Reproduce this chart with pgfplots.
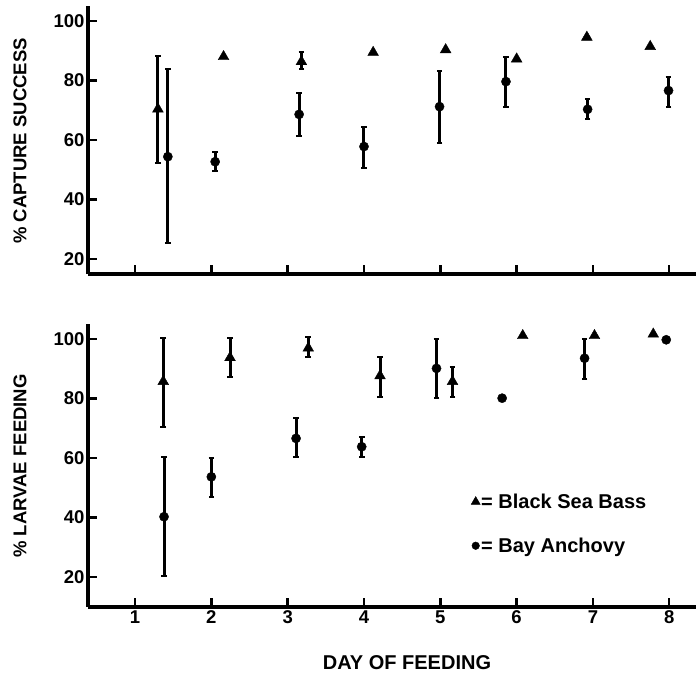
\documentclass[border=0pt]{standalone}
\usepackage{fontspec}
\setmainfont{Liberation Sans}
\usepackage{pgfplots}
\usepackage{pgfplotstable}
\pgfplotsset{compat=1.18}

% top panel: capture success
\pgfplotstableread{
x y ep em
1.30 70.4 17.8 18.0
3.18 86.3 3.1 2.5
}\topbassErr
\pgfplotstableread{
x y
2.16 88.0
4.12 89.4
5.07 90.3
6.00 87.2
6.92 94.5
7.75 91.4
}\topbass
\pgfplotstableread{
x y ep em
1.43 54.4 29.5 29.1
2.05 52.7 3.2 3.1
3.15 68.6 7.1 7.2
4.00 57.8 6.6 7.1
4.99 71.2 12.0 12.1
5.86 79.6 8.2 8.6
6.93 70.3 3.5 3.3
7.99 76.6 4.5 5.4
}\topanch
% bottom panel: larvae feeding
\pgfplotstableread{
x y ep em
1.37 85.7 14.7 15.2
2.245 93.7 6.7 6.4
3.27 96.9 3.9 3.1
4.21 87.6 6.2 7.0
5.16 85.7 4.8 5.1
}\botbassErr
\pgfplotstableread{
x y
6.08 101.1
7.02 101.1
7.79 101.6
}\botbass
\pgfplotstableread{
x y ep em
1.38 40.3 19.9 20.0
2.00 53.7 6.4 6.7
3.11 66.6 6.7 6.4
3.97 63.8 3.3 3.4
4.95 90.1 9.9 10.0
6.89 93.5 6.4 6.9
}\botanchErr
\pgfplotstableread{
x y
5.81 80.1
7.96 99.7
}\botanch

\pgfplotsset{
  base/.style={
    scale only axis, width=608pt,
    xmin=0.384, xmax=8.35,
    axis lines=left, axis line style={-, line width=3.2pt},
    tick style={line width=2.4pt, black},
    major tick length=9pt,
    tick align=inside,
    xtick={1,...,8}, ytick={20,40,...,100},
    tick label style={font=\fontsize{18.5}{20}\selectfont\bfseries},
    /pgf/number format/assume math mode=true,
    clip=false,
  },
  bass/.style={only marks, mark=triangle*, mark size=6.2pt, black},
  anch/.style={only marks, mark=*, mark size=4.6pt, black},
  eb/.style={error bars/y dir=both, error bars/y explicit,
    error bars/error bar style={line width=3pt, black},
    error bars/error mark options={rotate=90, line width=2pt, mark size=2.8pt, black}},
}

\begin{document}
\begin{tikzpicture}
\begin{axis}[base, at={(88pt,405pt)}, anchor=south west, height=268pt,
  ymin=15, ymax=105, xticklabels={}]
\addplot[bass, eb] table[x=x, y=y, y error plus=ep, y error minus=em] {\topbassErr};
\addplot[bass] table[x=x, y=y] {\topbass};
\addplot[anch, eb] table[x=x, y=y, y error plus=ep, y error minus=em] {\topanch};
\end{axis}
\begin{axis}[base, at={(88pt,72pt)}, anchor=south west, height=283pt,
  ymin=10, ymax=105,
  legend style={draw=none, fill=none, at={(axis description cs:0.625,0.415)}, anchor=north west,
    font=\fontsize{20}{22}\selectfont\bfseries, row sep=24pt,
    nodes={inner xsep=1pt}},
  legend cell align=left,
  legend image code/.code={\draw[#1] plot coordinates {(0.12cm,0cm)};}]
\addlegendimage{bass, mark size=5.2pt}
\addlegendentry{= Black Sea Bass}
\addlegendimage{anch, mark size=3.8pt}
\addlegendentry{= Bay Anchovy}
\addplot[bass, eb, forget plot] table[x=x, y=y, y error plus=ep, y error minus=em] {\botbassErr};
\addplot[bass, forget plot] table[x=x, y=y] {\botbass};
\addplot[anch, eb, forget plot] table[x=x, y=y, y error plus=ep, y error minus=em] {\botanchErr};
\addplot[anch, forget plot] table[x=x, y=y] {\botanch};
\end{axis}
\node[rotate=90, font=\fontsize{18.5}{20}\selectfont\bfseries] at (20pt,538pt) {\% CAPTURE SUCCESS};
\node[rotate=90, font=\fontsize{18.5}{20}\selectfont\bfseries] at (20pt,213pt) {\% LARVAE FEEDING};
\node[font=\fontsize{20}{22}\selectfont\bfseries] at (407pt,16pt) {DAY OF FEEDING};
\pgfresetboundingbox
\useasboundingbox (0,0) rectangle (696pt,679pt);
\end{tikzpicture}
\end{document}
